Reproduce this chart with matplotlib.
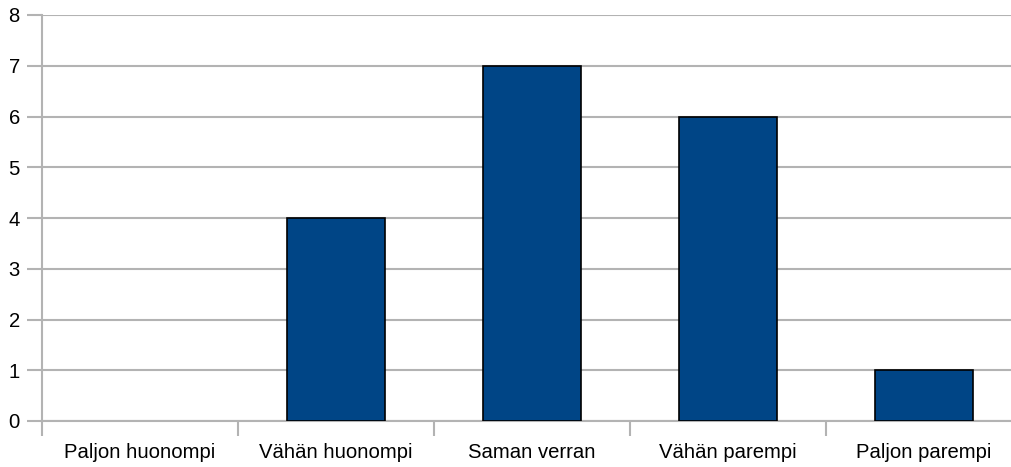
import matplotlib
matplotlib.use("Agg")
import matplotlib.pyplot as plt
import numpy as np

plt.rcParams['font.family'] = ['Liberation Sans', 'DejaVu Sans']

categories = ['Paljon huonompi', 'Vähän huonompi', 'Saman verran', 'Vähän parempi', 'Paljon parempi']
values = [0, 4, 7, 6, 1]

fig = plt.figure(figsize=(10.11, 4.67), dpi=100)
# axis runs past the right edge, as in the original
ax = fig.add_axes([42 / 1011, 46 / 467, 980 / 1011, 406 / 467])

x = np.arange(len(categories))
edges = ['black' if v > 0 else 'none' for v in values]
ax.bar(x, values, width=0.5, color='#004586', edgecolor=edges, linewidth=1.2, zorder=3)

ax.set_xlim(-0.5, len(categories) - 0.5)
ax.set_ylim(0, 8)
ax.set_yticks(range(0, 9))
ax.yaxis.grid(True, color='#b3b3b3', linewidth=1.5, zorder=0)

ax.set_xticks(x)
ax.set_xticklabels(categories, fontsize=14.6)
ax.set_xticks(np.arange(len(categories) + 1) - 0.5, minor=True)
ax.tick_params(axis='x', which='major', length=0, pad=16)
ax.tick_params(axis='x', which='minor', length=11, width=1.5, color='#b3b3b3')
ax.tick_params(axis='y', length=11, width=1.5, color='#b3b3b3', labelsize=14.6, pad=5)

for s in ['top', 'right']:
    ax.spines[s].set_visible(False)
for s in ['left', 'bottom']:
    ax.spines[s].set_color('#b3b3b3')
    ax.spines[s].set_linewidth(1.5)

fig.savefig('out.png', dpi=100)
